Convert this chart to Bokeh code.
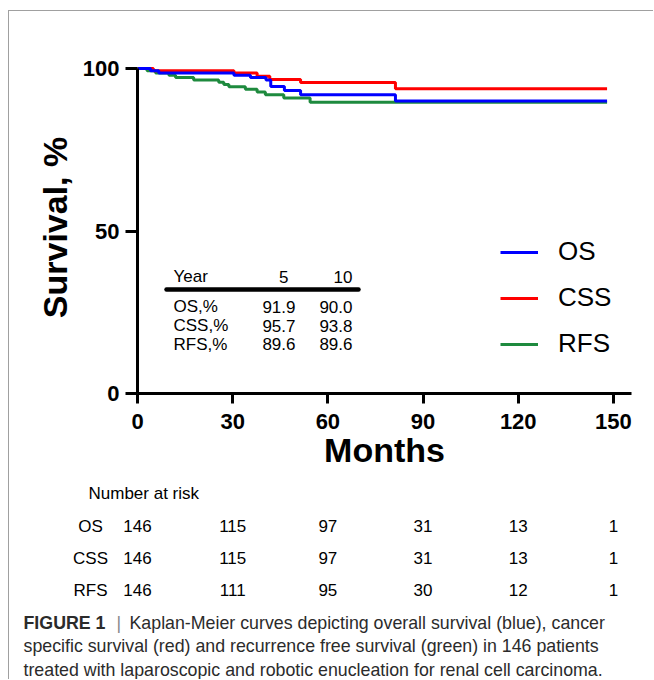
from bokeh.plotting import figure
from bokeh.models import FixedTicker, Legend, LegendItem, Range1d
from bokeh.embed import file_html
from bokeh.resources import INLINE
from bokeh.core.properties import value

# ---------------- data ----------------
os_t = [0, 4.1, 6.7, 30.4, 35.6, 40.5, 42.0, 46.3, 51.4, 81.3, 148]
os_s = [100, 99.3, 98.6, 97.9, 97.2, 96.5, 94.5, 93.2, 91.9, 90.0, 90.0]

css_t = [0, 5.0, 30.4, 37.7, 41.7, 51.4, 81.3, 148]
css_s = [100, 99.3, 98.6, 97.6, 96.6, 95.7, 93.8, 93.8]

rfs_t = [0, 3.0, 5.7, 9.9, 12.0, 17.7, 25.6, 27.2, 28.8, 34.0, 37.7, 40.3, 46.1, 54.4, 148]
rfs_s = [100, 99.3, 98.6, 97.9, 97.2, 96.5, 95.8, 95.1, 94.4, 93.6, 92.8, 91.9, 90.9, 89.6, 89.6]

series_names = ["OS", "CSS", "RFS"]
series_colors = ["#0000ff", "#ff0000", "#1e8a3e"]

x_ticks = [0, 30, 60, 90, 120, 150]
y_ticks = [0, 50, 100]

inset_header = ["Year", "5", "10"]
inset_rows = ["OS,%", "CSS,%", "RFS,%"]
inset_5yr = ["91.9", "95.7", "89.6"]
inset_10yr = ["90.0", "93.8", "89.6"]

risk_title = "Number at risk"
risk_times = [0, 30, 60, 90, 120, 150]
risk_os = [146, 115, 97, 31, 13, 1]
risk_css = [146, 115, 97, 31, 13, 1]
risk_rfs = [146, 111, 95, 30, 12, 1]

caption_bold = "FIGURE 1"
caption_lines = [
    "Kaplan-Meier curves depicting overall survival (blue), cancer",
    "specific survival (red) and recurrence free survival (green) in 146 patients",
    "treated with laparoscopic and robotic enucleation for renal cell carcinoma.",
]

# ---------------- layout (page pixels) ----------------
ORG_X, ORG_Y = 9, 11          # canvas origin on the page (after margin + border)
W = 654 - ORG_X
H1 = 470
H2 = 680 - ORG_Y - H1
FRAME_L, FRAME_R = 137, 631   # page x of months 0 and X_END
FRAME_T, FRAME_B = 61, 393    # page y of top of frame and of 0 %
X_END = 155.7
PXM = (FRAME_R - FRAME_L) / X_END
PXP = 3.25
Y_END = (FRAME_B - FRAME_T) / PXP

ML = FRAME_L - ORG_X
MR = ORG_X + W - FRAME_R
MT = FRAME_T - ORG_Y
MB = ORG_Y + H1 - FRAME_B


def dx(px):
    return (px - FRAME_L) / PXM


def dy(py):
    return (FRAME_B - py) / PXP


P2_TOP = ORG_Y + H1


def ly(py):
    return py - P2_TOP


FONT = "Liberation Sans"

p = figure(width=W, height=H1, output_backend="svg", toolbar_location=None,
           x_range=Range1d(0, X_END), y_range=Range1d(0, Y_END),
           min_border_left=ML, min_border_right=MR, min_border_top=MT,
           min_border_bottom=MB)
p.styles = {"margin-left": "8px", "margin-top": "10px",
            "border-left": "1px solid #a0a0a0", "border-top": "1px solid #a0a0a0"}
p.outline_line_color = None
p.grid.visible = False

for ax in (p.xaxis[0], p.yaxis[0]):
    ax.axis_line_width = 3
    ax.axis_line_color = "black"
    ax.major_tick_line_width = 3
    ax.major_tick_line_color = "black"
    ax.major_tick_in = 0
    ax.minor_tick_line_color = None
    ax.major_label_text_font = FONT
    ax.major_label_text_font_style = "bold"
    ax.major_label_text_font_size = "22px"
    ax.major_label_text_color = "black"
    ax.axis_label_text_font = FONT
    ax.axis_label_text_font_style = "bold"
    ax.axis_label_text_font_size = "34px"
    ax.axis_label_text_color = "black"

p.xaxis.ticker = FixedTicker(ticks=x_ticks)
p.yaxis.ticker = FixedTicker(ticks=y_ticks)
p.xaxis.major_tick_out = 10
p.yaxis.major_tick_out = 12
p.xaxis.major_label_standoff = 10
p.yaxis.major_label_standoff = 6
p.yaxis.bounds = (0, 100)
p.xaxis.axis_label = "Months"
p.yaxis.axis_label = "Survival, %"
p.xaxis.axis_label_standoff = -1
p.yaxis.axis_label_standoff = 6

# curves (green, red, then blue on top)
r_rfs = p.step(rfs_t, rfs_s, mode="after", line_width=3, color=series_colors[2])
r_css = p.step(css_t, css_s, mode="after", line_width=3, color=series_colors[1])
r_os = p.step(os_t, os_s, mode="after", line_width=3, color=series_colors[0])

legend = Legend(items=[LegendItem(label=series_names[0], renderers=[r_os]),
                       LegendItem(label=series_names[1], renderers=[r_css]),
                       LegendItem(label=series_names[2], renderers=[r_rfs])],
                location=(363, 34), padding=0, margin=0, spacing=15,
                glyph_width=38, glyph_height=30, label_height=30,
                label_standoff=20, border_line_alpha=0,
                background_fill_alpha=0,
                label_text_font=FONT, label_text_font_size="26px",
                label_text_color="black")
p.add_layout(legend)

# inset table
tfs = "17px"
p.text(x=[dx(173)], y=[dy(276)], text=[inset_header[0]], text_font=value(FONT),
       text_font_size=tfs, text_baseline="middle", text_align="left", color="black")
p.text(x=[dx(288), dx(352)], y=[dy(276), dy(276)], text=inset_header[1:],
       text_font=value(FONT), text_font_size=tfs, text_baseline="middle",
       text_align="right", color="black")
p.line(x=[dx(166), dx(358)], y=[dy(289), dy(289)], line_width=4.5,
       line_cap="round", color="black")
row_y = [dy(306), dy(325), dy(343.5)]
p.text(x=[dx(173)] * 3, y=row_y, text=inset_rows, text_font=value(FONT),
       text_font_size=tfs, text_baseline="middle", text_align="left", color="black")
p.text(x=[dx(295)] * 3, y=row_y, text=inset_5yr, text_font=value(FONT),
       text_font_size=tfs, text_baseline="middle", text_align="right", color="black")
p.text(x=[dx(352)] * 3, y=row_y, text=inset_10yr, text_font=value(FONT),
       text_font_size=tfs, text_baseline="middle", text_align="right", color="black")

# ---------------- lower panel: number at risk + caption ----------------
q = figure(width=W, height=H2, output_backend="svg", toolbar_location=None,
           x_range=Range1d(dx(ORG_X), dx(ORG_X + W)), y_range=Range1d(H2, 0),
           min_border_left=0, min_border_right=0, min_border_top=0,
           min_border_bottom=0, x_axis_location=None, y_axis_location=None)
q.styles = {"margin-left": "8px", "border-left": "1px solid #a0a0a0"}
q.outline_line_color = None
q.grid.visible = False

rfs_font = "17px"
q.text(x=[dx(88)], y=[ly(494)], text=[risk_title], text_font=value(FONT),
       text_font_size="17px", text_baseline="middle", text_align="left", color="black")
risk_rows_y = [ly(526.5), ly(558.5), ly(590.5)]
for name, vals, yy in zip(series_names, [risk_os, risk_css, risk_rfs], risk_rows_y):
    q.text(x=[dx(90)], y=[yy], text=[name], text_font=value(FONT),
           text_font_size=rfs_font, text_baseline="middle", text_align="center",
           color="black")
    q.text(x=risk_times, y=[yy] * len(risk_times), text=[str(v) for v in vals],
           text_font=value(FONT), text_font_size=rfs_font, text_baseline="middle",
           text_align="center", color="black")

cap_fs = "17.8px"
cap_col = "#2b2b2b"
cap_base = [ly(623), ly(646.5), ly(670)]
q.text(x=[dx(23)], y=[cap_base[0]], text=[caption_bold], text_font=value(FONT),
       text_font_style="bold", text_font_size=cap_fs, text_baseline="alphabetic",
       color=cap_col)
q.text(x=[dx(116)], y=[cap_base[0]], text=["|"], text_font=value(FONT),
       text_font_size=cap_fs, text_baseline="alphabetic", color="#888888")
q.text(x=[dx(129)], y=[cap_base[0]], text=[caption_lines[0]], text_font=value(FONT),
       text_font_size=cap_fs, text_baseline="alphabetic", color=cap_col)
q.text(x=[dx(23)] * 2, y=cap_base[1:], text=caption_lines[1:], text_font=value(FONT),
       text_font_size=cap_fs, text_baseline="alphabetic", color=cap_col)

open("out.html", "w").write(file_html([p, q], INLINE))
